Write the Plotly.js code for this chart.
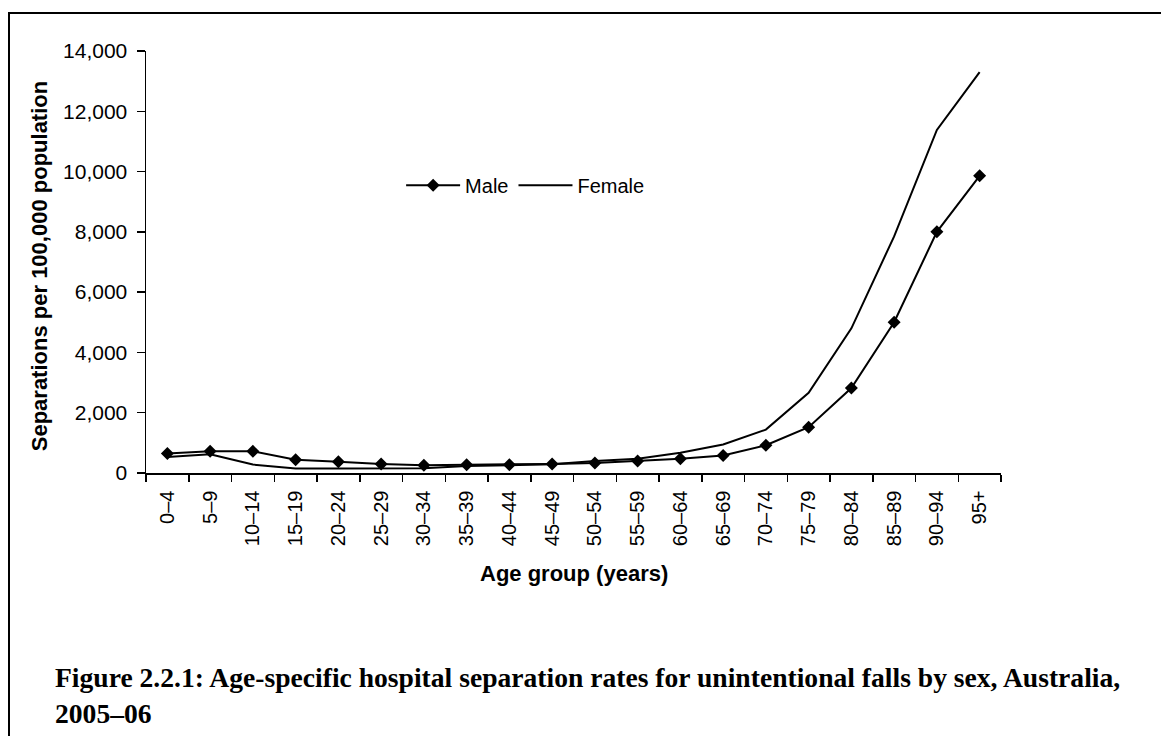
<!DOCTYPE html>
<html>
<head>
<meta charset="utf-8">
<script src="https://cdn.plot.ly/plotly-3.0.1.min.js"></script>
<style>
  html, body { margin: 0; padding: 0; background: #fff; }
  #wrap { position: relative; width: 1161px; height: 736px; overflow: hidden; }
  #chart { position: absolute; left: 0; top: 0; width: 1161px; height: 736px; }
  #frame { position: absolute; left: 8px; top: 12px; width: 1200px; height: 800px;
           border-left: 2px solid #000; border-top: 2px solid #000; pointer-events: none; }
</style>
</head>
<body>
<div id="wrap">
  <div id="chart"></div>
  <div id="frame"></div>
</div>
<script>
// Age groups (years)
const ageGroups = ['0\u20134','5\u20139','10\u201314','15\u201319','20\u201324','25\u201329','30\u201334',
  '35\u201339','40\u201344','45\u201349','50\u201354','55\u201359','60\u201364','65\u201369','70\u201374',
  '75\u201379','80\u201384','85\u201389','90\u201394','95+'];

// Separations per 100,000 population
const maleRates   = [650, 720, 720, 440, 370, 300, 260, 270, 270, 300, 330, 400, 470, 580, 920, 1520, 2820, 5000, 8000, 9860];
const femaleRates = [530, 620, 280, 150, 150, 150, 160, 230, 250, 290, 400, 470, 670, 945, 1440, 2660, 4800, 7850, 11380, 13300];

const yTicks = [0, 2000, 4000, 6000, 8000, 10000, 12000, 14000];

const sans = 'Liberation Sans, Arial, sans-serif';
const serif = 'Liberation Serif, Times New Roman, serif';

const traces = [
  {
    x: ageGroups, y: maleRates, name: 'Male', type: 'scatter', mode: 'lines+markers',
    line: { color: '#000', width: 2 },
    marker: { symbol: 'diamond', size: 10, color: '#000' }
  },
  {
    x: ageGroups, y: femaleRates, name: 'Female', type: 'scatter', mode: 'lines',
    line: { color: '#000', width: 2 }
  }
];

const layout = {
  width: 1161, height: 736,
  margin: { l: 146, r: 160, t: 51, b: 263, pad: 0 },
  paper_bgcolor: '#fff', plot_bgcolor: '#fff',
  font: { family: sans, size: 20, color: '#000' },
  showlegend: true,
  legend: {
    orientation: 'h', x: 0.444, xanchor: 'center', y: 0.682, yanchor: 'middle',
    font: { family: sans, size: 20, color: '#000' }, bgcolor: 'rgba(0,0,0,0)',
    itemwidth: 54, tracegroupgap: 0
  },
  xaxis: {
    type: 'category', range: [-0.5, 19.5], tickson: 'boundaries',
    showline: true, linecolor: '#000', linewidth: 1.5, mirror: false,
    ticks: 'outside', ticklen: 7, tickwidth: 1.5, tickcolor: '#000',
    tickangle: -90, ticklabelstandoff: 8,
    tickfont: { family: sans, size: 20, color: '#000' },
    showgrid: false, zeroline: false, fixedrange: true
  },
  yaxis: {
    range: [0, 14000], tickvals: yTicks, tickformat: ',d',
    showline: true, linecolor: '#000', linewidth: 1.5,
    ticks: 'outside', ticklen: 8, tickwidth: 1.5, tickcolor: '#000',
    ticklabelstandoff: 5,
    tickfont: { family: sans, size: 21, color: '#000' },
    showgrid: false, zeroline: false, fixedrange: true
  },
  annotations: [
    {
      text: '<b>Separations per 100,000 population</b>', textangle: -90,
      xref: 'paper', yref: 'paper', x: -0.1251, y: 0.49, xanchor: 'center', yanchor: 'middle',
      showarrow: false, font: { family: sans, size: 22, color: '#000' }
    },
    {
      text: '<b>Age group (years)</b>',
      xref: 'paper', yref: 'paper', x: 0.5, y: -0.237, xanchor: 'center', yanchor: 'middle',
      showarrow: false, font: { family: sans, size: 22, color: '#000' }
    },
    {
      text: '<b>Figure 2.2.1: Age-specific hospital separation rates for unintentional falls by sex, Australia,</b><br><b>2005\u201306</b>',
      xref: 'paper', yref: 'paper', x: -0.1088, y: -0.443, xanchor: 'left', yanchor: 'top', align: 'left',
      showarrow: false, font: { family: serif, size: 27.6, color: '#000' }
    }
  ]
};

Plotly.newPlot('chart', traces, layout, { displayModeBar: false, staticPlot: true });
</script>
</body>
</html>
